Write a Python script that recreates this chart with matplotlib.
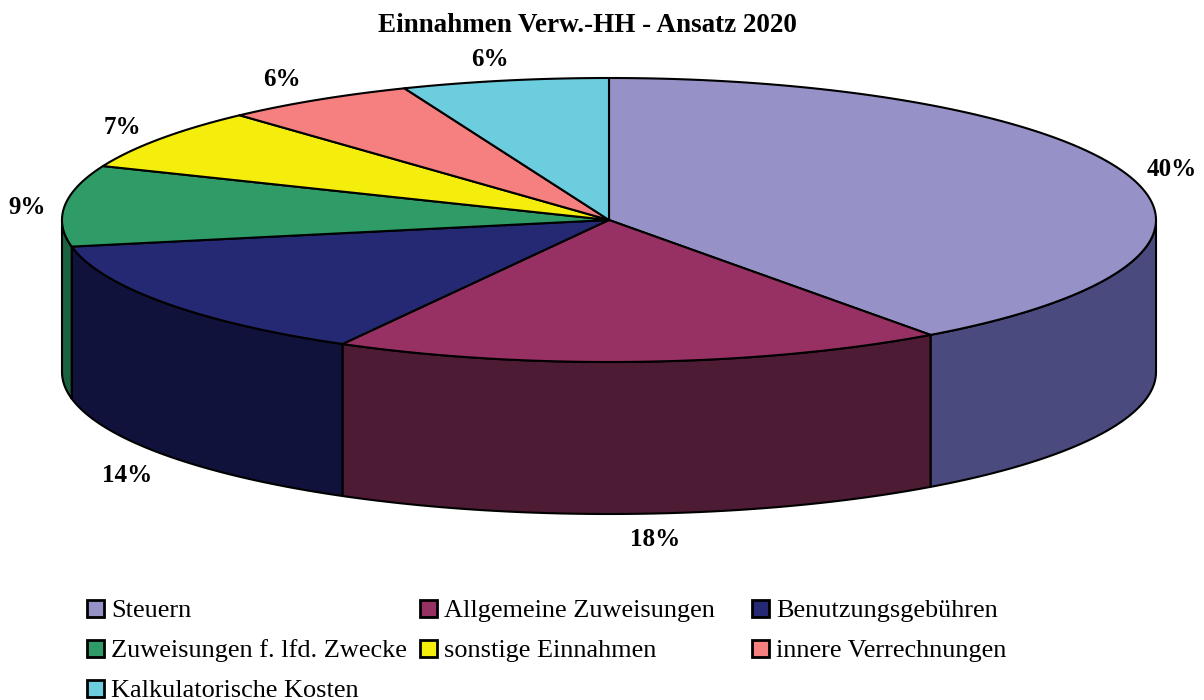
import numpy as np
from matplotlib import pyplot as plt
from matplotlib.patches import Polygon, Rectangle

categories = ['Steuern', 'Allgemeine Zuweisungen', 'Benutzungsgebühren',
              'Zuweisungen f. lfd. Zwecke', 'sonstige Einnahmen',
              'innere Verrechnungen', 'Kalkulatorische Kosten']
values = [40.0, 18.1, 13.9, 9.2, 7.0, 5.7, 6.1]
pct_labels = ['40%', '18%', '14%', '9%', '7%', '6%', '6%']
top_colors = ['#9692C7', '#973163', '#252873', '#2F9C67', '#F5EE0C', '#F6807F', '#6CCDDF']
side_colors = ['#4B4A7E', '#4D1B34', '#10123B', '#1B6240', '#7A7706', '#7B4040', '#36666F']

# pie geometry in pixels
cx, cy = 609, 220
rx, ry = 547, 142
depth = 152

# where the percent labels sit, same order as values
label_x = [1172, 655, 127, 27, 122, 282, 490]
label_y = [169, 539, 475, 207, 127, 79, 59]

plt.rcParams['font.family'] = ['Liberation Serif', 'DejaVu Serif']

fig = plt.figure(figsize=(12.04, 7), dpi=100)
ax = fig.add_axes([0, 0, 1, 1])
ax.set_xlim(0, 1204)
ax.set_ylim(700, 0)
ax.axis('off')


def ring(a):
    # a = degrees clockwise from 12 o'clock
    a = np.radians(a)
    return cx + rx * np.sin(a), cy - ry * np.cos(a)


edges = np.concatenate([[0], np.cumsum(values)]) / sum(values) * 360

# side walls, only the front half of the pie shows them
for i in range(len(values)):
    a0 = max(edges[i], 90)
    a1 = min(edges[i + 1], 270)
    if a1 <= a0:
        continue
    x, y = ring(np.linspace(a0, a1, 80))
    pts = np.column_stack([np.r_[x, x[::-1]], np.r_[y, y[::-1] + depth]])
    ax.add_patch(Polygon(pts, closed=True, facecolor=side_colors[i],
                         edgecolor='black', linewidth=1.5, joinstyle='round'))

# top faces
for i in range(len(values)):
    x, y = ring(np.linspace(edges[i], edges[i + 1], 120))
    pts = np.column_stack([np.r_[cx, x], np.r_[cy, y]])
    ax.add_patch(Polygon(pts, closed=True, facecolor=top_colors[i],
                         edgecolor='black', linewidth=1.5, joinstyle='round'))

for i in range(len(values)):
    ax.text(label_x[i], label_y[i], pct_labels[i], ha='center', va='center',
            fontsize=18, fontweight='bold', color='black')

ax.text(587, 26, 'Einnahmen Verw.-HH - Ansatz 2020', ha='center', va='center',
        fontsize=19.5, fontweight='bold', color='black')

# legend, filled row by row
col_x = [87, 420, 752]
row_y = [608, 648, 688]
for i, name in enumerate(categories):
    x0 = col_x[i % 3]
    y0 = row_y[i // 3]
    ax.add_patch(Rectangle((x0, y0 - 8.5), 17, 17, facecolor=top_colors[i],
                           edgecolor='black', linewidth=2, clip_on=False))
    ax.text(x0 + 24, y0 + 3, name, ha='left', va='center', fontsize=18.9, color='black')

fig.savefig('out.png', dpi=100)
